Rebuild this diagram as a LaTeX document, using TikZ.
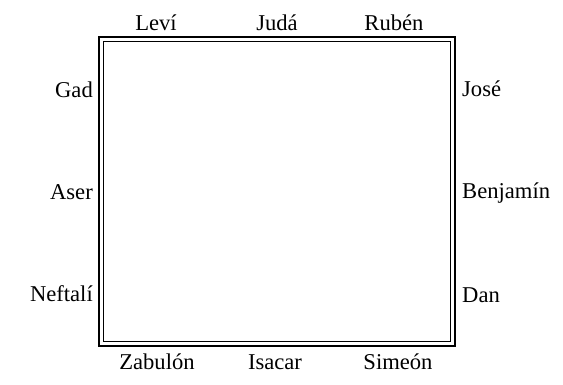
\documentclass[tikz,border=0pt]{standalone}
\usepackage{fontspec}
\setmainfont{Liberation Serif}
\begin{document}
\begin{tikzpicture}[x=1pt,y=1pt,
  lbl/.style={inner sep=0pt,font=\fontsize{22.6}{27}\selectfont},
  outerline/.style={draw=black,line width=2.2pt},
  innerline/.style={draw=black,line width=1.1pt}]
\useasboundingbox (0,0) rectangle (563,384);
% frame
\draw[outerline] (99,347) rectangle (455,38);
\draw[innerline] (103.5,342.5) rectangle (450.5,42.5);
% top
\node[lbl,anchor=base] (levi) at (156,353) {Leví};
\node[lbl,anchor=base] (juda) at (277,353) {Judá};
\node[lbl,anchor=base] (ruben) at (394,353) {Rubén};
% bottom
\node[lbl,anchor=base] (zabulon) at (157,15) {Zabulón};
\node[lbl,anchor=base] (isacar) at (275,15) {Isacar};
\node[lbl,anchor=base] (simeon) at (398,15) {Simeón};
% left
\node[lbl,anchor=base east] (gad) at (93,287) {Gad};
\node[lbl,anchor=base east] (aser) at (93,185) {Aser};
\node[lbl,anchor=base east] (neftali) at (93,83) {Neftalí};
% right
\node[lbl,anchor=base west] (jose) at (462,288) {José};
\node[lbl,anchor=base west] (benjamin) at (462,186) {Benjamín};
\node[lbl,anchor=base west] (dan) at (462,82) {Dan};
\end{tikzpicture}
\end{document}
